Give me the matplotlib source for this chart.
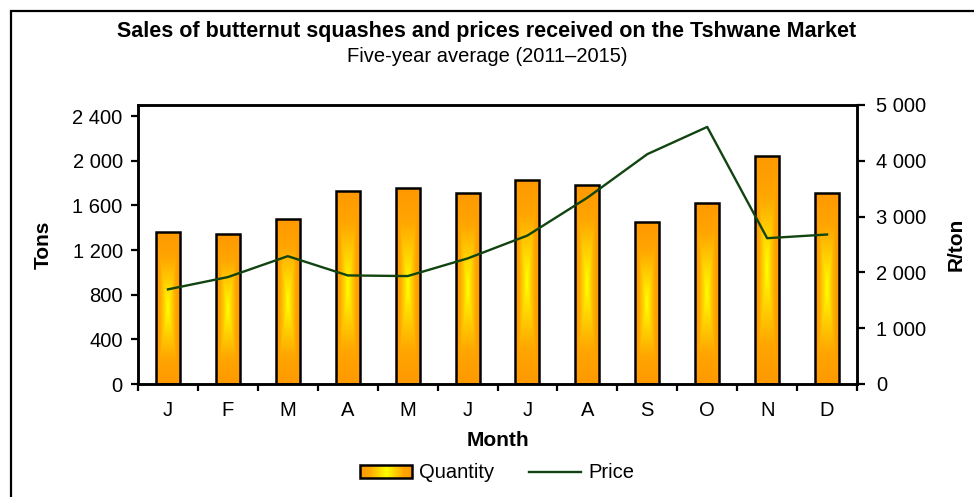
import numpy as np
import matplotlib
matplotlib.use('Agg')
import matplotlib.pyplot as plt
from matplotlib.colors import LinearSegmentedColormap
from matplotlib.patches import Rectangle
from matplotlib.lines import Line2D
from matplotlib.ticker import FuncFormatter, MultipleLocator

plt.rcParams['font.family'] = ['Liberation Sans', 'DejaVu Sans']

# Data
months = ['J', 'F', 'M', 'A', 'M', 'J', 'J', 'A', 'S', 'O', 'N', 'D']
quantity = [1361, 1343, 1475, 1731, 1755, 1713, 1827, 1782, 1451, 1624, 2039, 1708]
price = [1696, 1916, 2291, 1946, 1934, 2250, 2661, 3339, 4119, 4607, 2613, 2679]

fmt = FuncFormatter(lambda v, p: '{:,}'.format(int(v)).replace(',', ' '))
fs = 14.5

fig = plt.figure(figsize=(9.74, 4.97), dpi=100)
ax = fig.add_axes([138/974, 1-384/497, (857-138)/974, (384-105)/497])
ax2 = ax.twinx()

# frame around the whole chart (runs off the right and bottom)
fig.patches.append(Rectangle((11/974, -0.1), 1.0, 1.1 - 11/497, transform=fig.transFigure,
                             fill=False, edgecolor='black', linewidth=1.6))

x = np.arange(len(months))
bars = ax.bar(x, quantity, width=0.4, facecolor='none', edgecolor='black', linewidth=1.8, zorder=3)

# gradient fill: yellow centre, orange edges
cmap = LinearSegmentedColormap.from_list('squash', ['#FFFF00', '#FFD000', '#FFA500', '#FF9900'])
gx = np.linspace(-1, 1, 60)
gy = np.linspace(-1, 1, 200)
GX, GY = np.meshgrid(gx, gy)
grad = np.maximum(np.abs(GX), np.abs(GY))
for b in bars:
    x0, y0 = b.get_x(), b.get_y()
    im = ax.imshow(grad, cmap=cmap, vmin=0, vmax=1, aspect='auto',
                   extent=[x0, x0 + b.get_width(), y0, y0 + b.get_height()], zorder=2)
    im.set_clip_path(b)

ax2.plot(x, price, color='#114411', linewidth=1.7, zorder=4)

ax.set_xlim(-0.5, 11.5)
ax.set_ylim(0, 2500)
ax2.set_ylim(0, 5000)
ax.yaxis.set_major_locator(MultipleLocator(400))
ax2.yaxis.set_major_locator(MultipleLocator(1000))
ax.yaxis.set_major_formatter(fmt)
ax2.yaxis.set_major_formatter(fmt)

ax.set_xticks(x)
ax.set_xticklabels(months)
ax.set_xticks(np.arange(-0.5, 12, 1), minor=True)
ax.tick_params(axis='x', which='major', length=0, pad=12, labelsize=fs)
ax.tick_params(axis='x', which='minor', length=5, width=1.6, direction='out')
ax.tick_params(axis='y', length=5, width=1.6, labelsize=fs, pad=6)
ax2.tick_params(axis='y', length=6, width=1.6, labelsize=fs, pad=8)
ax.set_yticks(np.arange(0, 2401, 400))

for a in (ax, ax2):
    for s in a.spines.values():
        s.set_linewidth(1.8)

ax.set_ylabel('Tons', fontsize=15, fontweight='bold', labelpad=14)
ax2.set_ylabel('R/ton', fontsize=15, fontweight='bold', labelpad=14)
ax.set_xlabel('Month', fontsize=15, fontweight='bold', labelpad=8)

fig.text(0.5, 1-31/497, 'Sales of butternut squashes and prices received on the Tshwane Market',
         ha='center', va='center', fontsize=15.5, fontweight='bold')
fig.text(0.5, 1-57/497, 'Five-year average (2011\u20132015)', ha='center', va='center', fontsize=fs)

handles = [Rectangle((0, 0), 1, 1, facecolor='none', edgecolor='black', linewidth=1.8),
           Line2D([0], [0], color='#114411', linewidth=1.7)]
leg = fig.legend(handles, ['Quantity', 'Price'], loc='center', bbox_to_anchor=(497/974, 1-473/497),
                 ncol=2, frameon=False, fontsize=fs, handlelength=2.6, handleheight=0.6,
                 columnspacing=1.7, handletextpad=0.35)

# gradient inside the legend swatch
fig.canvas.draw()
bb = leg.legend_handles[0].get_window_extent().transformed(fig.transFigure.inverted())
lax = fig.add_axes([bb.x0, bb.y0, bb.width, bb.height], zorder=-1)
lx = np.abs(np.linspace(-1, 1, 80))[None, :]
lax.imshow(lx, cmap=cmap, vmin=0, vmax=1, aspect='auto')
lax.axis('off')

fig.savefig('out.png', dpi=100)
